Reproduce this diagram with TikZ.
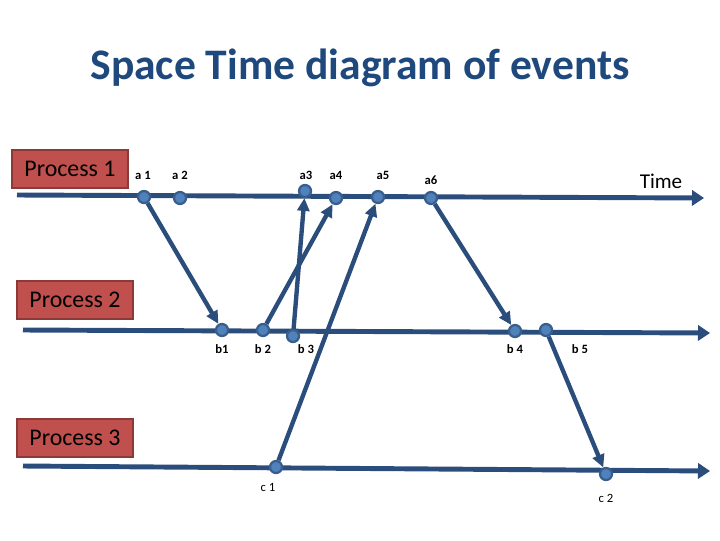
\documentclass[tikz,border=0pt]{standalone}
\usepackage{fontspec}
\setmainfont{Carlito}
\usepackage{xcolor}
\usepackage{tikz}
\usetikzlibrary{arrows.meta,positioning}
\definecolor{lineblue}{HTML}{2A4D7C}
\definecolor{dotblue}{HTML}{4F81BD}
\definecolor{dotedge}{HTML}{3A5E8C}
\definecolor{procred}{HTML}{C0504D}
\definecolor{procedge}{HTML}{8C3A38}
\definecolor{titleblue}{HTML}{1F497D}
\tikzset{ev/.style={circle,draw=dotedge,fill=dotblue,line width=1.6pt,minimum size=0.3cm,inner sep=0pt},
  proc/.style={rectangle,draw=procedge,fill=procred,line width=1.5pt,minimum width=2.9cm,minimum height=0.93cm,font=\fontsize{17}{19}\selectfont},
  evlab/.style={font=\fontsize{9}{10}\selectfont\bfseries},
  timeline/.style={draw=lineblue,line width=3.5pt,-{Triangle[length=0.3cm,width=0.38cm]}},
  msg/.style={draw=lineblue,line width=3.1pt,-{Triangle[length=0.32cm,width=0.3cm]}}}

\begin{document}
\begin{tikzpicture}[x=0.025cm,y=-0.025cm]
    \useasboundingbox (0,0) rectangle (720,540);
    \node[font=\fontsize{31}{35}\selectfont\bfseries,text=titleblue] (title) at (360,68) {Space Time diagram of events};

    \node[proc] (p1) at (70,169) {Process 1};
    \node[proc] (p2) at (75,300) {Process 2};
    \node[proc] (p3) at (75,438) {Process 3};

    \coordinate (s1) at (17,195);
    \coordinate (t1) at (704,198);
    \coordinate (s2) at (23,330);
    \coordinate (t2) at (710,333);
    \coordinate (s3) at (23,466);
    \coordinate (t3) at (710,471);
    \draw [timeline] (s1) -- (t1);
    \draw [timeline] (s2) -- (t2);
    \draw [timeline] (s3) -- (t3);
    \node[font=\fontsize{15}{17}\selectfont] (time) at (661,181) {Time};

    \node[ev] (a1) at (144,197) {};
    \node[ev] (a2) at (180,198) {};
    \node[ev] (a3) at (305,191) {};
    \node[ev] (a4) at (336,198) {};
    \node[ev] (a5) at (378,197) {};
    \node[ev] (a6) at (431,198) {};
    \node[ev] (b1) at (222,330) {};
    \node[ev] (b2) at (263,330) {};
    \node[ev] (b3) at (293,336) {};
    \node[ev] (b4) at (515,331) {};
    \node[ev] (b5) at (546,330) {};
    \node[ev] (c1) at (276,467) {};
    \node[ev] (c2) at (606,474) {};

    \node[evlab] (la1) at (143,175) {a 1};
    \node[evlab] (la2) at (180,175) {a 2};
    \node[evlab] (la3) at (306,175) {a3};
    \node[evlab] (la4) at (336,175) {a4};
    \node[evlab] (la5) at (383,175) {a5};
    \node[evlab] (la6) at (431,180) {a6};
    \node[evlab] (lb1) at (222,349) {b1};
    \node[evlab] (lb2) at (263,349) {b 2};
    \node[evlab] (lb3) at (306,349) {b 3};
    \node[evlab] (lb4) at (515,349) {b 4};
    \node[evlab] (lb5) at (580,349) {b 5};
    \node[font=\fontsize{9}{10}\selectfont] (lc1) at (268,487) {c 1};
    \node[font=\fontsize{9}{10}\selectfont] (lc2) at (606,498) {c 2};

    \draw [msg] (a1) -- (b1);
    \draw [msg] (b2) -- (a4);
    \draw [msg] (b3) -- (a3);
    \draw [msg] (c1) -- (a5);
    \draw [msg] (a6) -- (b4);
    \draw [msg] (b5) -- (c2);
\end{tikzpicture}
\end{document}
